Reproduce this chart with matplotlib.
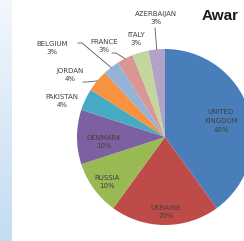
import numpy as np
import matplotlib
matplotlib.use("Agg")
import matplotlib.pyplot as plt

# data (share of awards, %)
countries = ["UNITED\nKINGDOM", "UKRAINE", "RUSSIA", "DENMARK", "PAKISTAN",
             "JORDAN", "BELGIUM", "FRANCE", "ITALY", "AZERBAIJAN"]
shares = [40, 20, 10, 10, 4, 4, 3, 3, 3, 3]

colors = ["#4a7ebb", "#be4b48", "#98b954", "#7d60a0", "#46aac5",
          "#f69240", "#95b3d7", "#da9694", "#c3d69b", "#b3a2c7"]

# label anchor points in pixel coords (y down) -- layout only
label_pos = [(221, 121), (166, 212), (107, 182), (104, 142), (62, 101),
             (70, 75), (52, 48), (104, 46), (136, 39), (156, 18)]
# leader line start points (None = no leader)
leader_start = [None, None, None, None, None,
                (83, 82), (78, 43), (112, 53), None, (155, 28)]

W, H = 244, 241
fig = plt.figure(figsize=(W / 100, H / 100), dpi=100)
ax = fig.add_axes([0, 0, 1, 1])

# left light blue strip of the slide
grad = np.linspace(0, 1, 100).reshape(-1, 1)
cmap = matplotlib.colors.LinearSegmentedColormap.from_list("strip", ["#f2f7fc", "#c4dcf1"])
ax.imshow(grad, extent=(0, 12, H, 0), cmap=cmap, aspect="auto", zorder=0)

cx, cy, r = 165, 137, 88
wedges, _ = ax.pie(shares, colors=colors, startangle=-90, counterclock=True,
                   center=(cx, cy), radius=r, frame=True,
                   wedgeprops=dict(linewidth=0))
ax.set_xlim(0, W)
ax.set_ylim(H, 0)
ax.set_aspect("equal")
ax.axis("off")

for i, w in enumerate(wedges):
    lx, ly = label_pos[i]
    ax.text(lx, ly, f"{countries[i]}\n{shares[i]}%", ha="center", va="center",
            fontsize=5, color="#404040", linespacing=1.5, zorder=5)
    if leader_start[i] is not None:
        mid = np.deg2rad((w.theta1 + w.theta2) / 2)
        ex, ey = cx + r * np.cos(mid), cy + r * np.sin(mid)
        sx, sy = leader_start[i]
        if abs(sx - ex) < 3:
            xs, ys = [sx, ex], [sy, ey]
        else:
            xs, ys = [sx, sx + 4, ex], [sy, sy, ey]
        ax.plot(xs, ys, color="#595959", lw=0.6, zorder=4)

# title is cut off by the screenshot edge in the reference
ax.text(202, 20, "Awar", fontsize=11, fontweight="bold",
        family="Liberation Sans", color="#1a1a1a", ha="left", va="baseline")

fig.savefig("out.png", dpi=100)
